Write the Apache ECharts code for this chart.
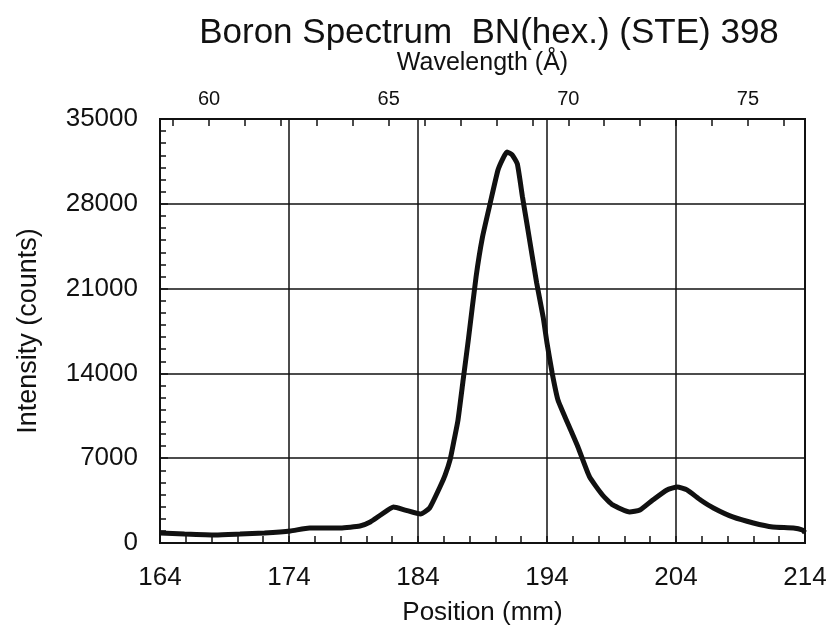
<!DOCTYPE html>
<html>
<head>
<meta charset="utf-8">
<script src="https://cdn.jsdelivr.net/npm/echarts@6/dist/echarts.min.js"></script>
<style>html,body{margin:0;padding:0;background:#fff;}#chart{width:832px;height:636px;}</style>
</head>
<body>
<div id="chart"></div>
<script>
// Position (mm) along spectrometer
const positions = [164.0,165.9,168.3,170.2,172.1,174.1,175.6,178.0,179.5,180.3,181.1,182.1,183.0,184.2,184.9,185.7,186.1,186.5,186.8,187.1,187.5,187.9,188.5,189.0,189.6,190.2,190.6,190.9,191.3,191.7,192.1,192.5,193.2,193.7,194.0,194.4,194.85,195.6,196.4,197.3,198.3,199.1,200.4,201.2,202.2,203.3,204.1,204.85,205.9,206.9,208.4,210.0,211.5,213.1,213.8,214.0];
// Intensity (counts)
const intensity = [830,740,660,740,830,990,1240,1240,1400,1730,2310,2970,2720,2390,2890,4620,5610,6930,8500,10150,13460,16760,21960,25260,28070,30790,31780,32280,32030,31290,28560,26000,21460,18660,16510,14030,11800,9900,7920,5450,3960,3140,2560,2720,3550,4380,4620,4380,3550,2890,2150,1650,1320,1240,1070,850];
const xTicks = [164,174,184,194,204,214];
const xGridValues = [174,184,194,204];
const yTicks = [0,7000,14000,21000,28000,35000];
const wavelengthLabels = [60,65,70,75];
const wavelengthTicks = [59,60,61,62,63,64,65,66,67,68,69,70,71,72,73,74,75,76];
const wavelengthRange = [58.636, 76.588];

const FONT = 'Liberation Sans';
const INK = '#111';
const chart = echarts.init(document.getElementById('chart'));
chart.setOption({
  backgroundColor: '#fff',
  animation: false,
  textStyle: { fontFamily: FONT, color: INK },
  title: {
    text: 'Boron Spectrum  BN(hex.) (STE) 398',
    left: 484, top: 11, textAlign: 'center',
    textStyle: { fontFamily: FONT, fontSize: 35, fontWeight: 'normal', color: INK }
  },
  grid: { left: 160, right: 27, top: 119, bottom: 93, show: true, borderColor: INK, borderWidth: 2, backgroundColor: 'transparent' },
  xAxis: [{
    type: 'value', position: 'bottom', min: 164, max: 214, interval: 2,
    name: 'Position (mm)', nameLocation: 'middle', nameGap: 57,
    nameTextStyle: { fontFamily: FONT, fontSize: 26, color: INK },
    axisLine: { lineStyle: { color: INK, width: 2 } },
    axisTick: { inside: true, length: 7, lineStyle: { color: INK, width: 1.5 } },
    axisLabel: { margin: 22, fontFamily: FONT, fontSize: 26, color: INK,
      formatter: v => (xTicks.indexOf(Math.round(v)) >= 0 && Math.abs(v - Math.round(v)) < 1e-6) ? String(Math.round(v)) : '' },
    splitLine: { show: false }
  }, {
    type: 'value', position: 'top', min: wavelengthRange[0], max: wavelengthRange[1],
    name: 'Wavelength (Å)', nameLocation: 'middle', nameGap: 43,
    nameTextStyle: { fontFamily: FONT, fontSize: 25, color: INK },
    axisLine: { lineStyle: { color: INK, width: 2 } },
    axisTick: { inside: true, length: 7, customValues: wavelengthTicks, lineStyle: { color: INK, width: 1.5 } },
    axisLabel: { margin: 10, fontFamily: FONT, fontSize: 20, color: INK, customValues: wavelengthLabels,
      formatter: v => (wavelengthLabels.indexOf(Math.round(v)) >= 0 && Math.abs(v - Math.round(v)) < 1e-6) ? String(Math.round(v)) : '' },
    splitLine: { show: false }
  }],
  yAxis: {
    type: 'value', min: 0, max: 35000, interval: 7000,
    name: 'Intensity (counts)', nameLocation: 'middle', nameGap: 118,
    nameTextStyle: { fontFamily: FONT, fontSize: 27, color: INK },
    axisLine: { show: true, lineStyle: { color: INK, width: 2 } },
    axisTick: { inside: true, length: 8, lineStyle: { color: INK, width: 1.5 } },
    minorTick: { show: true, splitNumber: 7, length: 6, lineStyle: { color: INK, width: 1.5 } },
    axisLabel: { margin: 22, fontFamily: FONT, fontSize: 26, color: INK, formatter: v => String(v) },
    splitLine: { show: true, lineStyle: { color: INK, width: 1.5 } }
  },
  series: [{
    type: 'line', xAxisIndex: 0,
    data: positions.map((p, i) => [p, intensity[i]]),
    showSymbol: false, smooth: 0.15,
    lineStyle: { color: INK, width: 5 },
    markLine: {
      silent: true, symbol: 'none', label: { show: false },
      lineStyle: { color: INK, width: 1.5, type: 'solid' },
      data: xGridValues.map(v => ({ xAxis: v }))
    },
    z: 5
  }]
});
</script>
</body>
</html>
